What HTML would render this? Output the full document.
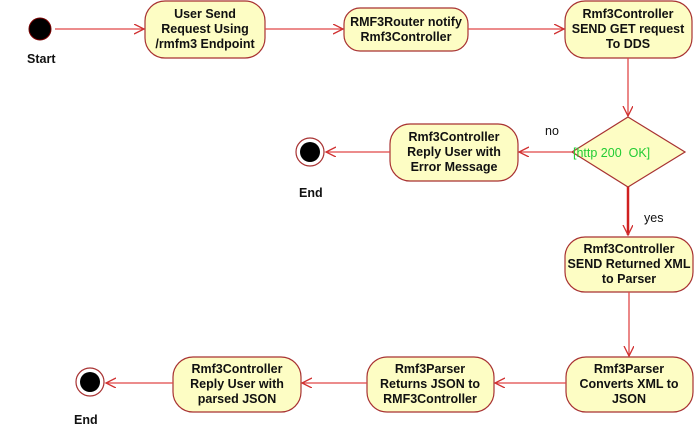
<!DOCTYPE html>
<html><head><style>
body{margin:0;background:#fff;}
text{font-family:"Liberation Sans",Arial,sans-serif;font-size:12.5px;font-weight:bold;fill:#111;}
.b{fill:#fdfdc4;stroke:#a83232;stroke-width:1.2;}
.l{stroke:#e04848;stroke-width:1.3;fill:none;}
</style></head><body>
<svg width="696" height="433" xmlns="http://www.w3.org/2000/svg">
<defs><marker id="a" markerWidth="12" markerHeight="12" refX="10" refY="5" orient="auto" markerUnits="userSpaceOnUse"><path d="M0,0 L10,5 L0,10" fill="none" stroke="#d03030" stroke-width="1.3"/></marker></defs>
<circle cx="40" cy="29" r="11" fill="#000" stroke="#700" stroke-width="1"/>
<text x="27" y="63">Start</text>
<line class="l" x1="55" y1="29" x2="144" y2="29" marker-end="url(#a)"/>
<rect class="b" x="145" y="1" width="120" height="57" rx="20"/>
<text text-anchor="middle" x="205" y="18">User Send</text>
<text text-anchor="middle" x="205" y="33">Request Using</text>
<text text-anchor="middle" x="205" y="48">/rmfm3 Endpoint</text>
<line class="l" x1="265" y1="29" x2="343" y2="29" marker-end="url(#a)"/>
<rect class="b" x="344" y="8" width="124" height="43" rx="16"/>
<text text-anchor="middle" x="406" y="26">RMF3Router notify</text>
<text text-anchor="middle" x="406" y="41">Rmf3Controller</text>
<line class="l" x1="468" y1="29" x2="564" y2="29" marker-end="url(#a)"/>
<rect class="b" x="565" y="1" width="127" height="57" rx="20"/>
<text text-anchor="middle" x="628" y="18">Rmf3Controller</text>
<text text-anchor="middle" x="628" y="33">SEND GET request</text>
<text text-anchor="middle" x="628" y="48">To DDS</text>
<line class="l" x1="628" y1="58" x2="628" y2="116" marker-end="url(#a)"/>
<polygon class="b" points="628,117 685,152 628,187 572,152"/>
<text x="573" y="157" style="font-weight:normal;fill:#22cc33;font-size:12.5px">[http 200&#160; OK]</text>
<text x="545" y="135" style="font-weight:normal">no</text>
<line class="l" x1="572" y1="152" x2="519" y2="152" marker-end="url(#a)"/>
<rect class="b" x="390" y="124" width="128" height="57" rx="20"/>
<text text-anchor="middle" x="454" y="141">Rmf3Controller</text>
<text text-anchor="middle" x="454" y="156">Reply User with</text>
<text text-anchor="middle" x="454" y="171">Error Message</text>
<line class="l" x1="390" y1="152" x2="326" y2="152" marker-end="url(#a)"/>
<circle cx="310" cy="152" r="14" fill="#fff" stroke="#a83232" stroke-width="1.2"/>
<circle cx="310" cy="152" r="10" fill="#000"/>
<text x="299" y="197">End</text>
<line x1="628" y1="187" x2="628" y2="235" stroke="#d02020" stroke-width="2.5" marker-end="url(#a)"/>
<text x="644" y="222" style="font-weight:normal">yes</text>
<rect class="b" x="565" y="237" width="128" height="55" rx="20"/>
<text text-anchor="middle" x="629" y="253">Rmf3Controller</text>
<text text-anchor="middle" x="629" y="268">SEND Returned XML</text>
<text text-anchor="middle" x="629" y="283">to Parser</text>
<line class="l" x1="629" y1="292" x2="629" y2="356" marker-end="url(#a)"/>
<rect class="b" x="566" y="357" width="127" height="55" rx="20"/>
<text text-anchor="middle" x="629" y="373">Rmf3Parser</text>
<text text-anchor="middle" x="629" y="388">Converts XML to</text>
<text text-anchor="middle" x="629" y="403">JSON</text>
<line class="l" x1="566" y1="383" x2="495" y2="383" marker-end="url(#a)"/>
<rect class="b" x="367" y="357" width="127" height="55" rx="20"/>
<text text-anchor="middle" x="430" y="373">Rmf3Parser</text>
<text text-anchor="middle" x="430" y="388">Returns JSON to</text>
<text text-anchor="middle" x="430" y="403">RMF3Controller</text>
<line class="l" x1="367" y1="383" x2="302" y2="383" marker-end="url(#a)"/>
<rect class="b" x="173" y="357" width="128" height="55" rx="20"/>
<text text-anchor="middle" x="237" y="373">Rmf3Controller</text>
<text text-anchor="middle" x="237" y="388">Reply User with</text>
<text text-anchor="middle" x="237" y="403">parsed JSON</text>
<line class="l" x1="173" y1="383" x2="106" y2="383" marker-end="url(#a)"/>
<circle cx="90" cy="382" r="14" fill="#fff" stroke="#a83232" stroke-width="1.2"/>
<circle cx="90" cy="382" r="10" fill="#000"/>
<text x="74" y="424">End</text>
</svg>
</body></html>
